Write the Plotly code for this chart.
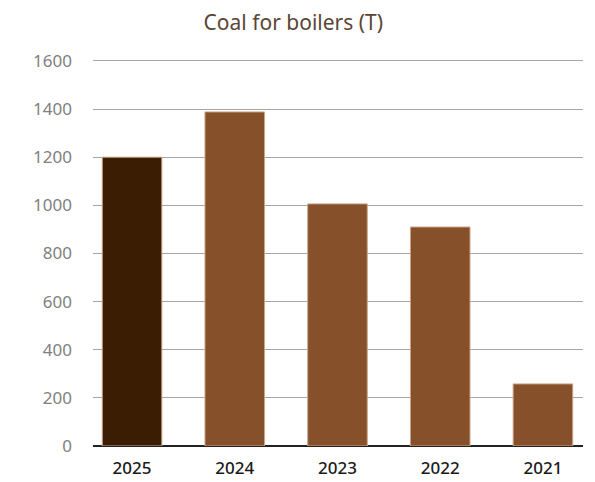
import plotly.graph_objects as go

years = ["2025", "2024", "2023", "2022", "2021"]
values = [1200, 1388, 1006, 910, 258]
bar_colors = ["#3b1d04", "#86502a", "#86502a", "#86502a", "#86502a"]
y_ticks = [0, 200, 400, 600, 800, 1000, 1200, 1400, 1600]

fig = go.Figure(go.Bar(
    x=years, y=values,
    marker=dict(color=bar_colors, line=dict(color="#c9a68a", width=1)),
    width=0.58,
))

fig.update_layout(
    width=595, height=482,
    margin=dict(l=93, r=12, t=59, b=36, autoexpand=False),
    paper_bgcolor="white", plot_bgcolor="white",
    title=dict(text="Coal for boilers (T)", x=0.493, xanchor="center", y=0.953, yanchor="middle",
               font=dict(family="Noto Sans", size=21, color="#5b4535")),
    font=dict(family="Noto Sans"),
    showlegend=False,
)
fig.update_xaxes(type="category", range=[-0.38, 4.39], showgrid=False, automargin=False,
                 tickfont=dict(size=17, color="#1a1a1a", weight=500), ticks="", showline=False,
                 ticklabelstandoff=10)
fig.update_yaxes(range=[0, 1608], tickvals=y_ticks, showgrid=True, gridcolor="#a6a6a6", gridwidth=1,
                 zeroline=True, zerolinecolor="#222222", zerolinewidth=1.5, automargin=False,
                 tickfont=dict(size=17, color="#808080"), ticks="", ticklabelstandoff=20)

fig.write_html("out.html")
